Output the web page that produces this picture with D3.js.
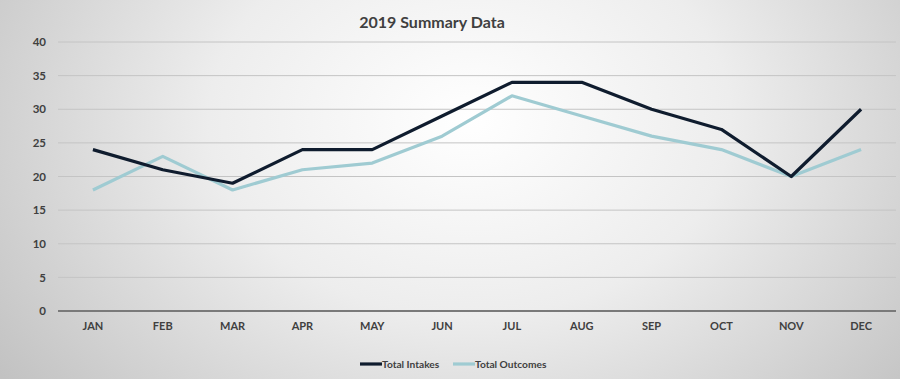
<!DOCTYPE html>
<html><head><meta charset="utf-8">
<script src="https://cdn.jsdelivr.net/npm/d3@7"></script>
<style>html,body{margin:0;padding:0;overflow:hidden;}svg{display:block;}</style>
</head><body>
<script>
const months = ["JAN","FEB","MAR","APR","MAY","JUN","JUL","AUG","SEP","OCT","NOV","DEC"];
const totalIntakes = [24,21,19,24,24,29,34,34,30,27,20,30];
const totalOutcomes = [18,23,18,21,22,26,32,29,26,24,20,24];
const yTicks = [0,5,10,15,20,25,30,35,40];
const seriesNames = ["Total Intakes","Total Outcomes"];

const W=900,H=379;
const font = "Lato, 'Open Sans', sans-serif";
const svg = d3.select("body").append("svg").attr("width",W).attr("height",H);
const defs = svg.append("defs");
const rg = defs.append("radialGradient").attr("id","bg").attr("gradientUnits","userSpaceOnUse")
  .attr("cx",470).attr("cy",120).attr("r",580).attr("gradientTransform","translate(470,120) scale(1,0.75) translate(-470,-120)");
rg.append("stop").attr("offset","0%").attr("stop-color","#ffffff");
rg.append("stop").attr("offset","45%").attr("stop-color","#ededed");
rg.append("stop").attr("offset","100%").attr("stop-color","#c2c2c2");
svg.append("rect").attr("width",W).attr("height",H).attr("fill","url(#bg)");

const x = d3.scaleBand().domain(months).range([58,896]);
const y = d3.scaleLinear().domain([0,40]).range([311,42]);

// gridlines
svg.append("g").selectAll("line").data(yTicks.filter(d=>d>0)).join("line")
  .attr("x1",58).attr("x2",896).attr("y1",d=>y(d)).attr("y2",d=>y(d))
  .attr("stroke","#c4c4c4").attr("stroke-width",1);
svg.append("line").attr("x1",58).attr("x2",896).attr("y1",y(0)).attr("y2",y(0))
  .attr("stroke","#7a7a7a").attr("stroke-width",2);

// y axis labels
const ya = svg.append("g").attr("transform","translate(46,0)")
  .call(d3.axisLeft(y).tickValues(yTicks).tickSize(0).tickPadding(0));
ya.select(".domain").remove();
ya.selectAll("text").attr("font-family",font).attr("font-size",11.5).attr("font-weight","bold").attr("fill","#404040");

// x axis labels
const xa = svg.append("g").attr("transform","translate(0,322)")
  .call(d3.axisBottom(x).tickSize(0).tickPadding(0));
xa.select(".domain").remove();
xa.selectAll("text").attr("font-family",font).attr("font-size",11).attr("font-weight","bold").attr("fill","#404040");

// title
svg.append("text").attr("x",432).attr("y",28).attr("text-anchor","middle")
  .attr("font-family",font).attr("font-size",16).attr("font-weight","bold").attr("fill","#404040")
  .text("2019 Summary Data");

const colors = ["#0f1c2e","#9fcbd2"];
const line = d3.line().x((d,i)=>x(months[i])+x.bandwidth()/2).y(d=>y(d));
[totalOutcomes,totalIntakes].forEach((s,k)=>{
  const c = k===0?colors[1]:colors[0];
  svg.append("path").datum(s).attr("d",line).attr("fill","none")
    .attr("stroke",c).attr("stroke-width",3.2).attr("stroke-linejoin","round");
});

// legend
const lg = svg.append("g");
const legX = [360,453];
seriesNames.forEach((n,i)=>{
  lg.append("line").attr("x1",legX[i]).attr("x2",legX[i]+22).attr("y1",364).attr("y2",364)
    .attr("stroke",colors[i]).attr("stroke-width",3.2);
  lg.append("text").attr("x",legX[i]+22).attr("y",367.5).attr("font-family",font)
    .attr("font-size",10.2).attr("font-weight","bold").attr("fill","#404040").text(n);
});
</script>
</body></html>
